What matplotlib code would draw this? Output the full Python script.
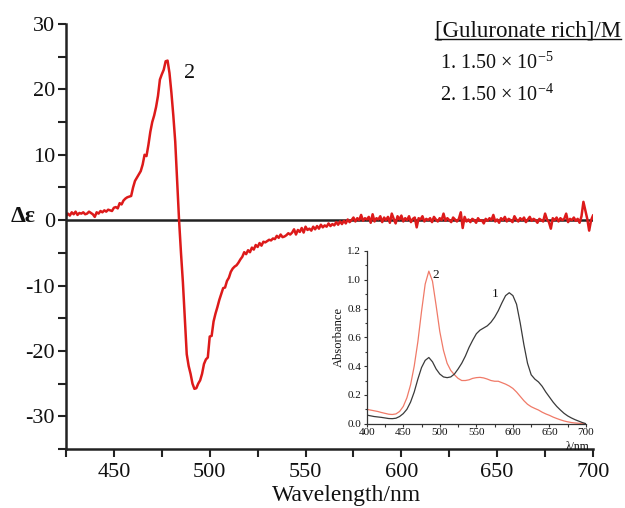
import matplotlib
matplotlib.use("Agg")
import matplotlib.pyplot as plt
import numpy as np
from matplotlib.lines import Line2D
from matplotlib.ticker import MultipleLocator

plt.rcParams['font.family'] = ['Liberation Serif', 'DejaVu Serif']
plt.rcParams['mathtext.fontset'] = 'custom'
plt.rcParams['mathtext.rm'] = 'Liberation Serif'
plt.rcParams['mathtext.it'] = 'Liberation Serif:italic'
plt.rcParams['axes.unicode_minus'] = False

# ---- main CD spectrum (curve 2), 1 nm steps from 425 to 700 nm ----
cd_wavelength = np.arange(425, 701)
cd_values = [
    0.6, 1.0, 0.7, 1.2, 0.9, 1.3, 0.8, 1.1, 1.0, 1.2,
    0.9, 1.0, 1.3, 1.1, 0.9, 0.5, 1.2, 1.0, 1.4, 1.2,
    1.5, 1.3, 1.6, 1.5, 1.4, 1.9, 2.0, 1.8, 2.6, 2.4,
    3.0, 3.3, 3.5, 3.6, 3.7, 5.0, 6.0, 6.5, 7.0, 7.5,
    8.5, 10.0, 9.8, 11.5, 13.5, 15.0, 16.0, 17.3, 19.0, 21.5,
    22.3, 23.0, 24.3, 24.4, 22.5, 19.5, 16.0, 12.0, 6.0, 0.0,
    -5.0, -9.5, -15.0, -20.5, -22.3, -23.5, -25.0, -25.8, -25.7, -25.0,
    -24.5, -23.5, -22.0, -21.3, -21.0, -17.8, -17.7, -15.5, -14.3, -13.3,
    -12.2, -11.3, -10.4, -10.3, -9.3, -8.8, -7.9, -7.4, -7.1, -6.9,
    -6.5, -6.0, -5.6, -4.9, -5.2, -4.6, -4.9, -4.2, -4.5, -3.8,
    -4.1, -3.5, -3.9, -3.3, -3.4, -3.2, -3.0, -3.1, -2.8, -2.9,
    -2.4, -2.7, -2.2, -2.6, -2.5, -2.3, -2.0, -2.2, -1.9, -1.4,
    -2.2, -1.5, -1.8, -1.2, -1.9, -1.0, -1.5, -1.3, -1.6, -1.0,
    -1.4, -0.9, -1.3, -0.7, -1.1, -0.8, -1.0, -0.5, -0.9, -0.6,
    -0.8, -0.3, -0.7, -0.2, -0.6, -0.1, -0.5, 0.1, -0.3, 0.0,
    0.4, -0.2, 0.3, 0.0, 0.8, -0.1, 0.3, 0.1, 0.5, -0.4,
    0.9, -0.2, 0.3, 0.1, 0.6, -0.3, 0.4, 0.0, 0.5, -0.4,
    1.0, 0.2, -0.5, 0.6, 0.1, 0.7, -0.2, 0.3, 0.0, 0.6,
    -0.3, 0.2, 0.4, -1.1, 0.3, 0.1, 0.6, -0.2, 0.2, 0.0,
    0.3, -0.3, 0.5, 0.1, -0.2, 0.3, 0.0, 1.0, -0.1, 0.3,
    0.0, -0.3, 0.4, 0.1, -0.2, 0.2, 1.2, -1.2, 0.5, -0.2,
    0.1, -0.3, 0.2, 0.0, -0.4, 0.3, -0.1, 0.0, -0.5, 0.2,
    -0.1, 0.3, 0.0, 0.8, -0.2, 0.1, -0.4, 0.3, 0.0, 0.5,
    -0.2, 0.2, 0.0, -0.3, 0.6, 0.1, -0.2, 0.3, 0.0, 0.4,
    -0.3, 0.1, 0.5, -0.1, 0.2, 0.0, -0.4, 0.2, 0.0, -0.2,
    1.0, 0.1, -0.3, -1.3, 0.3, 0.0, 0.4, -0.2, 0.3, 0.0,
    0.2, 1.0, -0.3, 0.2, 0.0, 0.4, -0.1, 0.2, -0.4, 0.6,
    2.8, 1.5, 0.2, -1.6, 0.0, 0.7,
]

# ---- inset absorption spectra, 5 nm steps from 400 to 700 nm ----
abs_wavelength = np.arange(400, 701, 5)
abs_curve1 = [
    0.060, 0.055, 0.050, 0.047, 0.044, 0.040, 0.036, 0.035, 0.038, 0.050,
    0.070, 0.100, 0.150, 0.220, 0.310, 0.390, 0.440, 0.460, 0.430, 0.380,
    0.345, 0.325, 0.320, 0.325, 0.345, 0.380, 0.420, 0.470, 0.530, 0.580,
    0.625, 0.650, 0.665, 0.680, 0.705, 0.740, 0.785, 0.840, 0.890, 0.910,
    0.890, 0.830, 0.700, 0.550, 0.420, 0.340, 0.310, 0.290, 0.260, 0.220,
    0.185, 0.150, 0.120, 0.095, 0.072, 0.054, 0.040, 0.028, 0.018, 0.008,
    0.000,
]
abs_curve2 = [
    0.100, 0.095, 0.090, 0.085, 0.078, 0.072, 0.066, 0.064, 0.068, 0.085,
    0.120, 0.180, 0.270, 0.400, 0.570, 0.780, 0.970, 1.060, 0.990, 0.820,
    0.640, 0.510, 0.420, 0.370, 0.340, 0.315, 0.300, 0.300, 0.305, 0.315,
    0.320, 0.322, 0.318, 0.310, 0.300, 0.295, 0.295, 0.285, 0.275, 0.262,
    0.245, 0.220, 0.190, 0.160, 0.135, 0.118, 0.106, 0.095, 0.080, 0.068,
    0.058, 0.046, 0.036, 0.027, 0.019, 0.013, 0.008, 0.005, 0.003, 0.001,
    0.000,
]

main_xticks = [450, 500, 550, 600, 650, 700]
main_yticks = [-30, -20, -10, 0, 10, 20, 30]
inset_xticks = [400, 450, 500, 550, 600, 650, 700]
inset_yticks = [0.0, 0.2, 0.4, 0.6, 0.8, 1.0, 1.2]

W, H = 625, 508
fig = plt.figure(figsize=(W / 100, H / 100), dpi=100)
fig.patch.set_facecolor('white')

def px(x0, y0, x1, y1):
    return [x0 / W, 1 - y1 / H, (x1 - x0) / W, (y1 - y0) / H]

ax = fig.add_axes(px(66, 24, 593, 449))
ax.set_xlim(425, 700)
ax.set_ylim(-35, 30)
ax.axhline(0, color='#222222', lw=1.8, zorder=1)
ax.plot(cd_wavelength, cd_values, color='#dd1a1a', lw=1.8, zorder=2)
for s in ['top', 'right']:
    ax.spines[s].set_visible(False)
for s in ['left', 'bottom']:
    ax.spines[s].set_linewidth(1.8)
    ax.spines[s].set_color('#222222')
ax.set_xticks(main_xticks)
ax.set_yticks(main_yticks)
ax.xaxis.set_minor_locator(MultipleLocator(25))
ax.yaxis.set_minor_locator(MultipleLocator(5))
ax.tick_params(which='both', direction='out', length=6, width=1.5,
               colors='#222222', labelsize=16, pad=2)
ax.tick_params(axis='x', pad=4)
ax.set_xticklabels([str(t) for t in main_xticks], color='#111111')
ax.set_yticklabels([str(t) for t in main_yticks], color='#111111')
fig.text(347 / W, 1 - 501 / H, 'Wavelength/nm', fontsize=17,
         ha='center', va='baseline', color='#111111')
fig.text(11 / W, 1 - 217 / H, 'Δε', fontsize=17, fontweight='bold',
         ha='left', va='center', color='#111111')
ax.text(486.5, 22.5, '2', fontsize=16, ha='left', va='center', color='#111111')

# legend-like text
t = fig.text(435 / W, 1 - 37 / H, '[Guluronate rich]/M', fontsize=16.5,
             ha='left', va='baseline', color='#111111')
fig.text(440 / W, 1 - 69 / H, r'1. 1.50 × 10$^{-5}$', fontsize=14.5,
         ha='left', va='baseline', color='#111111')
fig.text(440 / W, 1 - 101 / H, r'2. 1.50 × 10$^{-4}$', fontsize=14.5,
         ha='left', va='baseline', color='#111111')
fig.canvas.draw()
bb = t.get_window_extent(renderer=fig.canvas.get_renderer())
fig.add_artist(Line2D([bb.x0 / W, bb.x1 / W], [1 - 38.5 / H, 1 - 38.5 / H],
                      color='#111111', lw=1.0))

# inset
ins = fig.add_axes(px(366.7, 251, 586, 423.7))
ins.set_facecolor('none')
ins.set_xlim(400, 700)
ins.set_ylim(0, 1.2)
ins.plot(abs_wavelength, abs_curve2, color='#f07a68', lw=0.9)
ins.plot(abs_wavelength, abs_curve1, color='#3a3a3a', lw=0.9)
for s in ['top', 'right']:
    ins.spines[s].set_visible(False)
for s in ['left', 'bottom']:
    ins.spines[s].set_linewidth(0.9)
    ins.spines[s].set_color('#333333')
ins.set_xticks(inset_xticks)
ins.set_yticks(inset_yticks)
ins.xaxis.set_minor_locator(MultipleLocator(25))
ins.yaxis.set_minor_locator(MultipleLocator(0.1))
ins.tick_params(which='major', direction='out', length=2.5, width=0.8,
                labelsize=8, pad=1.5, colors='#333333')
ins.tick_params(axis='x', which='major', pad=0.8)
ins.tick_params(which='minor', direction='out', length=1.8, width=0.8,
                colors='#333333')
ins.set_xticklabels([str(v) for v in inset_xticks], color='#111111')
ins.set_yticklabels(['%.1f' % v for v in inset_yticks], color='#111111')
ins.set_ylabel('Absorbance', fontsize=9, color='#111111', labelpad=2)
fig.text(590 / W, 1 - 449.5 / H, 'λ/nm', fontsize=8.5,
         ha='right', va='baseline', color='#111111')
ins.text(490, 1.03, '2', fontsize=9.5, ha='left', va='center', color='#111111')
ins.text(580, 0.9, '1', fontsize=9.5, ha='right', va='center', color='#111111')

fig.savefig('out.png', dpi=100, facecolor='white')
